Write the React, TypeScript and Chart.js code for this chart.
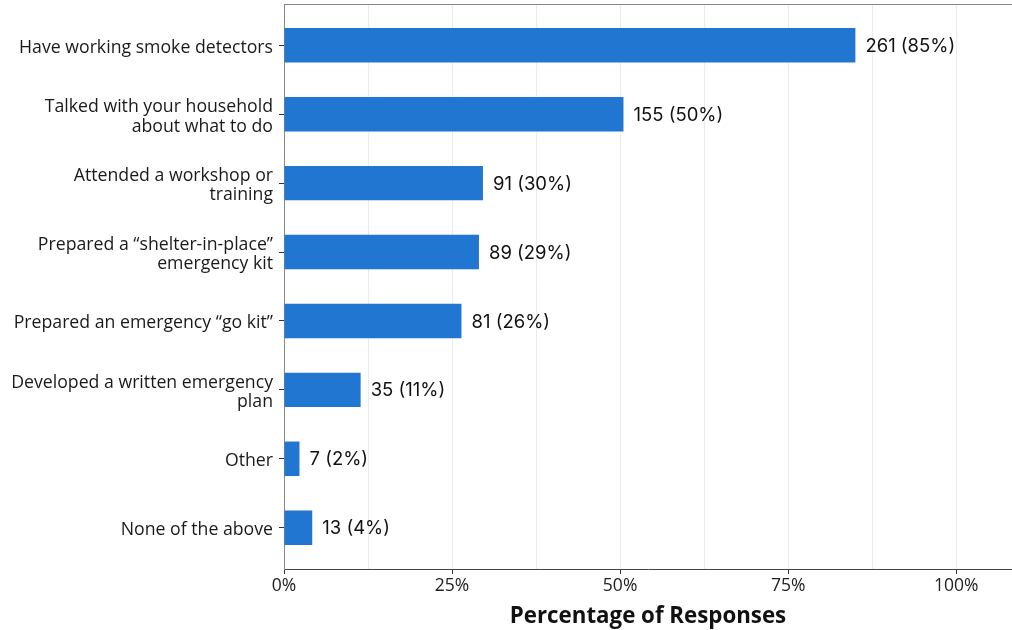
import React, { useEffect, useRef } from "react";
import { Chart, registerables } from "chart.js";

Chart.register(...registerables);

const categories: (string | string[])[] = [
  "Have working smoke detectors",
  ["Talked with your household", "about what to do"],
  ["Attended a workshop or", "training"],
  ["Prepared a \u201Cshelter-in-place\u201D", "emergency kit"],
  "Prepared an emergency \u201Cgo kit\u201D",
  ["Developed a written emergency", "plan"],
  "Other",
  "None of the above",
];
const counts = [261, 155, 91, 89, 81, 35, 7, 13];
const percents = [85.0, 50.5, 29.6, 29.0, 26.4, 11.4, 2.3, 4.2];
const percentLabels = ["85%", "50%", "30%", "29%", "26%", "11%", "2%", "4%"];
const xTickValues = [0, 12.5, 25, 37.5, 50, 62.5, 75, 87.5, 100];

export default function App() {
  const ref = useRef<HTMLCanvasElement | null>(null);
  useEffect(() => {
    document.body.style.margin = "0";
    const canvas = ref.current!;
    const valueLabelPlugin = {
      id: "valueLabels",
      afterDatasetsDraw(chart: any) {
        const ctx = chart.ctx;
        const meta = chart.getDatasetMeta(0);
        ctx.save();
        ctx.font = "18.5px Inter";
        ctx.fillStyle = "#111";
        ctx.textAlign = "left";
        ctx.textBaseline = "middle";
        meta.data.forEach((bar: any, i: number) => {
          ctx.fillText(`${counts[i]} (${percentLabels[i]})`, bar.x + 10, bar.y + 1);
        });
        ctx.restore();
      },
    };
    const topBorderPlugin = {
      id: "topBorder",
      afterDraw(chart: any) {
        const { ctx, chartArea } = chart;
        ctx.save();
        ctx.strokeStyle = "#888";
        ctx.lineWidth = 1;
        ctx.beginPath();
        ctx.moveTo(chartArea.left, chartArea.top + 0.5);
        ctx.lineTo(chartArea.right, chartArea.top + 0.5);
        ctx.stroke();
        ctx.restore();
      },
    };
    const chart = new Chart(canvas, {
      type: "bar",
      data: {
        datasets: [
          {
            data: percents.map((p, i) => ({ x: p, y: i })),
            backgroundColor: "#2176d2",
            borderWidth: 0,
            categoryPercentage: 1,
            barPercentage: 0.5,
          },
        ],
      },
      options: {
        indexAxis: "y",
        animation: false,
        responsive: false,
        devicePixelRatio: 1,
        layout: { padding: { top: 4, left: 0, right: 0, bottom: 0 } },
        plugins: { legend: { display: false }, tooltip: { enabled: false } },
        scales: {
          x: {
            type: "linear",
            min: 0,
            max: 108.3,
            afterBuildTicks: (scale: any) => {
              scale.ticks = xTickValues.map((v) => ({ value: v }));
            },
            afterFit: (scale: any) => {
              scale.height = 61;
              scale.paddingLeft = 0;
              scale.paddingRight = 0;
            },
            ticks: {
              callback: (v: any) => (Number(v) % 25 === 0 ? `${v}%` : ""),
              font: { family: "Open Sans", size: 17.5 },
              color: "#222",
              padding: 2,
              maxRotation: 0,
              autoSkip: false,
            },
            grid: {
              color: "#ebebeb",
              lineWidth: 1,
              drawTicks: true,
              tickLength: 5,
              tickColor: (ctx: any) =>
                ctx.tick && ctx.tick.value % 25 === 0 ? "#333" : "rgba(0,0,0,0)",
            },
            border: { color: "#444", width: 1 },
            title: {
              display: true,
              text: "Percentage of Responses",
              font: { family: "Open Sans", size: 22.3, weight: "bold" },
              color: "#111",
              padding: { top: 0, bottom: 0 },
            },
          },
          y: {
            type: "linear",
            min: -0.6,
            max: 7.6,
            reverse: true,
            offset: false,
            afterBuildTicks: (scale: any) => {
              scale.ticks = categories.map((_, i) => ({ value: i }));
            },
            afterFit: (scale: any) => {
              scale.width = 284;
              scale.paddingTop = 0;
              scale.paddingBottom = 0;
            },
            ticks: {
              callback: (v: any) => categories[Number(v)],
              font: { family: "Open Sans", size: 17.7, lineHeight: 1.1 },
              color: "#1a1a1a",
              padding: 6,
              labelOffset: 2.5,
              autoSkip: false,
            },
            grid: {
              offset: false,
              drawOnChartArea: false,
              drawTicks: true,
              tickLength: 5,
              tickColor: "#333",
            },
            border: { color: "#888", width: 1 },
          },
        },
      },
      plugins: [valueLabelPlugin, topBorderPlugin],
    } as any);
    return () => chart.destroy();
  }, []);
  return (
    <div style={{ width: 1012, height: 630 }}>
      <canvas ref={ref} width={1012} height={630} style={{ display: "block" }} />
    </div>
  );
}
